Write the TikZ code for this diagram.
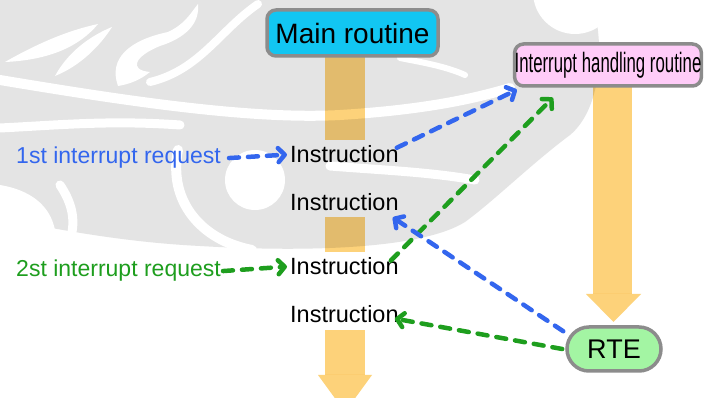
\documentclass[tikz,border=0pt]{standalone}
\usepackage{fontspec}
\setmainfont{Liberation Sans}
\usetikzlibrary{arrows.meta}

\definecolor{wmgrey}{HTML}{E4E4E4}
\definecolor{barorange}{HTML}{FDD27A}
\definecolor{mainfill}{HTML}{12C6F2}
\definecolor{intfill}{HTML}{FFCCF8}
\definecolor{rtefill}{HTML}{A3F5A3}
\definecolor{boxline}{HTML}{8C8C8C}
\definecolor{reqblue}{HTML}{3366EE}
\definecolor{reqgreen}{HTML}{1E9E1E}

\tikzset{
  routinebox/.style={draw=boxline, line width=3.5pt, rounded corners=9pt,
    inner sep=0pt, text=black},
  instr/.style={anchor=base west, inner sep=0pt, text=black,
    font=\fontsize{23.5}{26}\selectfont},
  request/.style={anchor=base east, inner sep=0pt,
    font=\fontsize{23}{26}\selectfont},
  flow/.style={line width=4.5pt, dash pattern=on 10pt off 9pt, line cap=round,
    -{Straight Barb[length=6.5pt,width=14pt,round]}},
  wmstroke/.style={draw=white, line cap=round},
}

\begin{document}
\begin{tikzpicture}[x=1pt,y=-1pt]
\useasboundingbox (0,0) rectangle (705,398);
\fill[white] (0,0) rectangle (705,398);

% ---- background ornament ----
\fill[wmgrey] (0,0) -- (592,0) .. controls (606,50) and (600,110) .. (570,135)
  .. controls (530,165) and (495,200) .. (465,222)
  .. controls (420,250) and (300,252) .. (200,246)
  .. controls (120,242) and (50,228) .. (0,218) -- cycle;
\fill[white] (575,-8) circle (42);
% leaves, upper left
\fill[white] (5,62) .. controls (40,42) and (70,30) .. (98,24)
  .. controls (80,46) and (50,60) .. cycle;
\fill[white] (55,76) .. controls (68,52) and (90,36) .. (112,27)
  .. controls (100,46) and (80,66) .. cycle;
\fill[white] (118,86) .. controls (108,58) and (130,40) .. (168,32)
  .. controls (185,24) and (190,14) .. (198,4)
  .. controls (200,24) and (185,38) .. (160,46)
  .. controls (135,56) and (128,70) .. (150,72)
  .. controls (140,80) and (130,84) .. cycle;
\draw[wmstroke, line width=8pt] (150,82) .. controls (200,70) and (220,30) .. (258,4);
% long sweeping bands
\draw[wmstroke, line width=10pt] (0,80) .. controls (120,100) and (250,120) .. (340,115)
  .. controls (420,110) and (470,100) .. (510,88);
\draw[wmstroke, line width=6pt] (400,58) .. controls (420,62) and (445,66) .. (465,75);
\draw[wmstroke, line width=9pt] (0,128) .. controls (60,125) and (110,120) .. (180,125);
\draw[wmstroke, line width=9pt] (330,166) .. controls (380,170) and (430,172) .. (475,180);
% circle and crescent in the middle
\fill[white] (255,180) circle (30);
\draw[wmstroke, line width=10pt] (178,150) .. controls (168,200) and (200,240) .. (252,250);
\draw[wmstroke, line width=9pt] (60,185) .. controls (70,200) and (75,215) .. (72,232);
\fill[white] (0,185) .. controls (30,190) and (50,205) .. (55,230) -- (0,230) -- cycle;

% ---- flow bars, under the boxes ----
\begin{scope}[blend mode=multiply]
  \fill[barorange] (325,50) rectangle (365,140);
  \fill[barorange] (325,217) rectangle (365,252);
  \fill[barorange] (325,330) rectangle (365,375);
  \fill[barorange] (318,375) -- (372,375) -- (345,412) -- cycle;
  \fill[barorange] (593,80) rectangle (632,294);
  \fill[barorange] (586,294) -- (641,294) -- (613.5,322) -- cycle;
\end{scope}

% ---- nodes ----
\node[routinebox, fill=mainfill, minimum width=171pt, minimum height=46pt,
  font=\fontsize{28}{30}\selectfont] (main) at (352.5,33) {Main routine};
\node[routinebox, fill=intfill, minimum width=186pt, minimum height=42pt]
  (intr) at (608,65)
  {\scalebox{0.6}[1]{\fontsize{28}{30}\selectfont Interrupt handling routine}};
\node[routinebox, fill=rtefill, rounded corners=22pt, minimum width=94pt,
  minimum height=44pt, font=\fontsize{27}{30}\selectfont] (rte) at (614,349) {RTE};

\node[instr] (i1) at (290,163) {Instruction};
\node[instr] (i2) at (290,211) {Instruction};
\node[instr] (i3) at (290,275) {Instruction};
\node[instr] (i4) at (290,323) {Instruction};

\node[request, text=reqblue] (req1) at (221,164) {1st interrupt request};
\node[request, text=reqgreen] (req2) at (221,277) {2st interrupt request};

% ---- interrupt flows ----
\draw[flow, reqblue] ([xshift=8pt]req1.east) -- ([xshift=-3pt]i1.west);
\draw[flow, reqgreen] ([xshift=2pt]req2.east) -- ([xshift=-3pt]i3.west);
\draw[flow, reqblue] ([xshift=-2pt,yshift=-2pt]i1.north east) -- ([xshift=4pt,yshift=-2pt]intr.south west);
\draw[flow, reqgreen] ([xshift=-8pt,yshift=6pt]i3.east) -- ([xshift=-55pt,yshift=-10pt]intr.south);
\draw[flow, reqblue] ([xshift=-2pt]rte.160) -- ([xshift=-6pt,yshift=-6pt]i2.south east);
\draw[flow, reqgreen] ([xshift=-3pt]rte.west) -- ([xshift=-4pt,yshift=-4pt]i4.east);
\end{tikzpicture}
\end{document}
